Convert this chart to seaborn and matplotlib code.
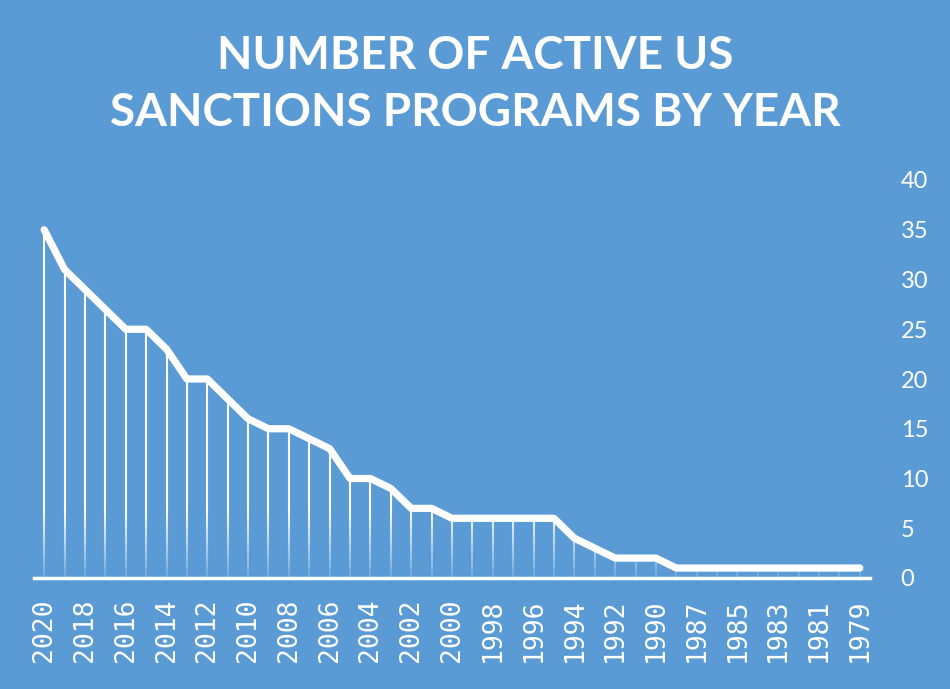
import numpy as np
import pandas as pd
import matplotlib
matplotlib.use("Agg")
import matplotlib.pyplot as plt
import seaborn as sns
from matplotlib.collections import LineCollection

# ---- data ----
years = ["2020", "2019", "2018", "2017", "2016", "2015", "2014", "2013", "2012", "2011",
         "2010", "2009", "2008", "2007", "2006", "2005", "2004", "2003", "2002", "2001",
         "2000", "1999", "1998", "1997", "1996", "1995", "1994", "1993", "1992", "1991",
         "1990", "1988", "1987", "1986", "1985", "1984", "1983", "1982", "1981", "1980",
         "1979"]
programs = [35, 31, 29, 27, 25, 25, 23, 20, 20, 18,
            16, 15, 15, 14, 13, 10, 10, 9, 7, 7,
            6, 6, 6, 6, 6, 6, 4, 3, 2, 2,
            2, 1, 1, 1, 1, 1, 1, 1, 1, 1,
            1]
y_ticks = [0, 5, 10, 15, 20, 25, 30, 35, 40]
title_lines = ["NUMBER OF ACTIVE US", "SANCTIONS PROGRAMS BY YEAR"]

BG = "#5B9BD5"
W = "white"

sns.set_theme(style="white")
plt.rcParams["font.family"] = ["Lato", "DejaVu Sans"]

df = pd.DataFrame({"pos": np.arange(len(years)), "year": years, "value": programs})

fig = plt.figure(figsize=(9.5, 6.89), dpi=100, facecolor=BG)
ax = fig.add_axes([34 / 950, 111 / 689, 836 / 950, 398 / 689])
ax.set_facecolor(BG)

# drop lines with fading toward the baseline
segs, cols = [], []
for p, v in zip(df["pos"], df["value"]):
    ys = np.linspace(0, v, max(int(v * 8), 2) + 1)
    for y0, y1 in zip(ys[:-1], ys[1:]):
        segs.append([(p, y0), (p, y1)])
        a = min(1.0, 0.12 + 0.88 * ((y0 + y1) / 2) / 7.0)
        cols.append((1, 1, 1, a))
ax.add_collection(LineCollection(segs, colors=cols, linewidths=1.5, zorder=2))

sns.lineplot(data=df, x="pos", y="value", ax=ax, color=W, linewidth=5.2,
             sort=False, zorder=3)
for l in ax.lines:
    l.set_solid_capstyle("round")
    l.set_solid_joinstyle("round")

ax.set_xlim(-0.5, len(years) - 0.5)
ax.set_ylim(0, 40)
ax.set_xlabel("")
ax.set_ylabel("")

ax.set_xticks(df["pos"][::2])
ax.set_xticklabels(df["year"][::2], rotation=90, color=W, fontsize=19,
                   family=["DejaVu Sans Mono"], va="top")
ax.tick_params(axis="x", length=0, pad=15)

ax.yaxis.tick_right()
ax.set_yticks(y_ticks)
ax.set_yticklabels([str(t) for t in y_ticks], color=W, fontsize=17, ha="left")
ax.tick_params(axis="y", length=0, pad=22)

for s in ["top", "left", "right"]:
    ax.spines[s].set_visible(False)
ax.spines["bottom"].set_color(W)
ax.spines["bottom"].set_linewidth(2.5)
ax.grid(False)

fig.text(0.5, 1 - 56 / 689, title_lines[0], ha="center", va="center",
         color=W, fontsize=33, fontweight="bold")
fig.text(0.5, 1 - 113 / 689, title_lines[1], ha="center", va="center",
         color=W, fontsize=33, fontweight="bold")

fig.savefig("out.png", dpi=100, facecolor=BG)
